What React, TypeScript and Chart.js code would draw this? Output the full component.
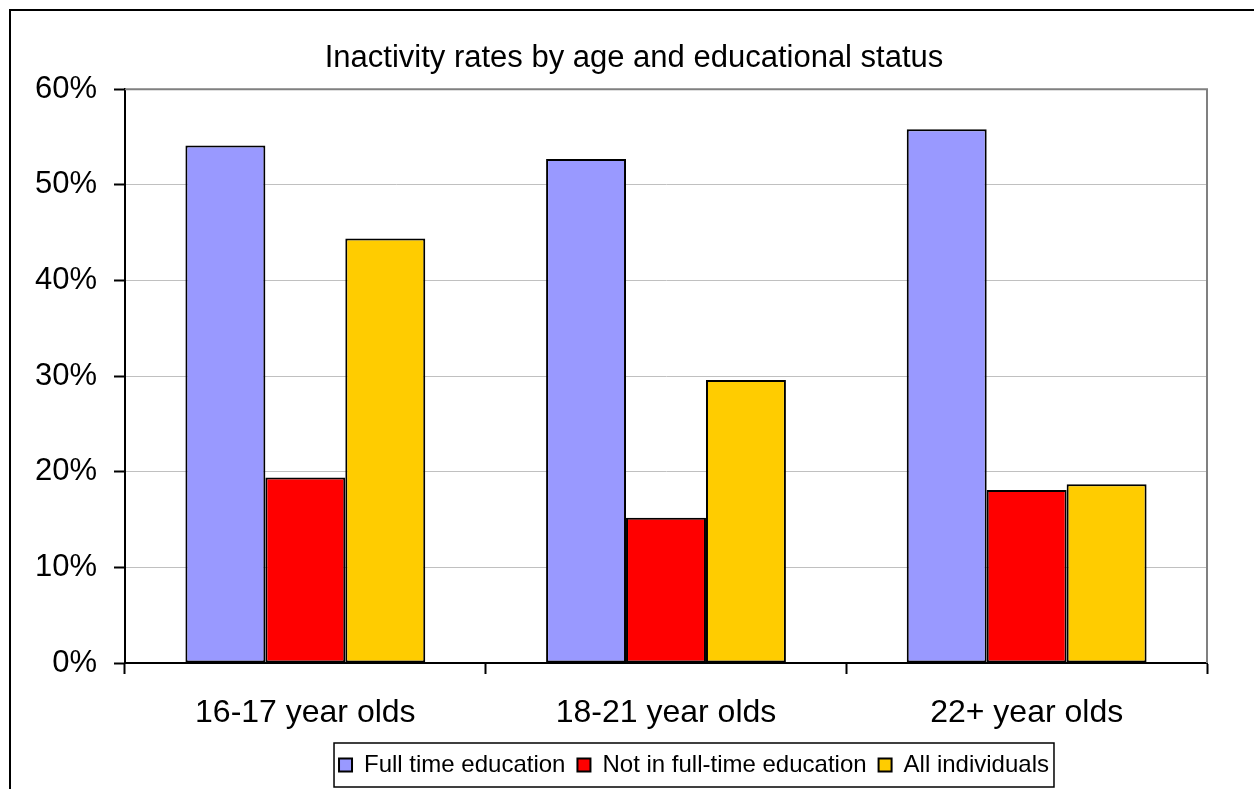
import React, { useEffect, useRef } from "react";
import { Chart, registerables } from "chart.js";

Chart.register(...registerables);

const chartTitle = "Inactivity rates by age and educational status";
const categories = ["16-17 year olds", "18-21 year olds", "22+ year olds"];
const seriesNames = ["Full time education", "Not in full-time education", "All individuals"];
const fullTimeEducation = [54.1, 52.7, 55.8];
const notInFullTimeEducation = [19.4, 15.2, 18.1];
const allIndividuals = [44.4, 29.6, 18.7];
const seriesColors = ["#9999FF", "#FF0000", "#FFCC00"];
const yMin = 0;
const yMax = 60;
const yStep = 10;

const FONT = "'Liberation Sans', Arial, sans-serif";
const LEGEND_SHIFT = 85;
const TITLE_SHIFT = 25;

const framePlugin = {
  id: "frame",
  afterUpdate(chart: any) {
    const lg = chart.legend;
    if (lg) {
      lg.left += LEGEND_SHIFT;
      lg.right += LEGEND_SHIFT;
      (lg.legendHitBoxes || []).forEach((h: any) => {
        h.left += LEGEND_SHIFT;
      });
    }
    const tt = chart.titleBlock;
    if (tt) {
      tt.left += TITLE_SHIFT;
      tt.right += TITLE_SHIFT;
    }
  },
  beforeDatasetsDraw(chart: any) {
    const { ctx, chartArea: a } = chart;
    ctx.save();
    ctx.strokeStyle = "#808080";
    ctx.lineWidth = 2;
    ctx.beginPath();
    ctx.moveTo(a.left, a.top);
    ctx.lineTo(a.right, a.top);
    ctx.lineTo(a.right, a.bottom);
    ctx.stroke();
    ctx.restore();
  },
  afterDraw(chart: any) {
    const lg = chart.legend;
    if (!lg || !lg.legendHitBoxes || !lg.legendHitBoxes.length) return;
    const hb = lg.legendHitBoxes;
    let l = Infinity;
    let r = -Infinity;
    hb.forEach((h: any) => {
      l = Math.min(l, h.left);
      r = Math.max(r, h.left + h.width);
    });
    const cy = hb[0].top + hb[0].height / 2;
    const { ctx } = chart;
    ctx.save();
    ctx.strokeStyle = "#000";
    ctx.lineWidth = 1.5;
    ctx.strokeRect(l - 5, cy - 22, r - l + 10, 44);
    ctx.restore();
  },
};

export default function App() {
  const ref = useRef<HTMLCanvasElement | null>(null);

  useEffect(() => {
    if (!ref.current) return;
    const values = [fullTimeEducation, notInFullTimeEducation, allIndividuals];
    const chart = new Chart(ref.current, {
      type: "bar",
      data: {
        labels: categories,
        datasets: seriesNames.map((name, i) => ({
          label: name,
          data: values[i],
          backgroundColor: seriesColors[i],
          borderColor: "#000",
          borderWidth: 2,
          borderSkipped: false,
          categoryPercentage: 0.665,
          barPercentage: 1,
        })),
      },
      options: {
        animation: false,
        responsive: true,
        maintainAspectRatio: false,
        devicePixelRatio: 1,
        layout: { padding: { left: 0, right: 47, top: 0, bottom: 2 } },
        plugins: {
          title: {
            display: true,
            text: chartTitle,
            color: "#000",
            font: { family: FONT, size: 31, weight: "normal" },
            padding: { top: 29, bottom: 12 },
          },
          legend: {
            position: "bottom",
            labels: {
              color: "#000",
              font: { family: FONT, size: 24 },
              boxWidth: 13,
              boxHeight: 13,
              padding: 12,
            },
          },
          tooltip: { enabled: false },
        },
        scales: {
          x: {
            grid: {
              drawOnChartArea: false,
              drawTicks: true,
              tickLength: 11,
              tickColor: "#000",
              tickWidth: 2,
              offset: true,
            },
            border: { color: "#000", width: 2 },
            ticks: {
              color: "#000",
              font: { family: FONT, size: 32 },
              padding: 20,
              maxRotation: 0,
            },
            afterFit: (s: any) => {
              s.height = 78;
            },
          },
          y: {
            min: yMin,
            max: yMax,
            grid: {
              color: "#c0c0c0",
              lineWidth: 1,
              tickLength: 11,
              tickColor: "#000",
              tickWidth: 2,
            },
            border: { color: "#000", width: 2 },
            ticks: {
              stepSize: yStep,
              color: "#000",
              font: { family: FONT, size: 31 },
              padding: 17,
              callback: (v: any) => `${v}%`,
            },
            afterFit: (s: any) => {
              s.width = 114;
            },
          },
        },
      },
      plugins: [framePlugin],
    });
    return () => chart.destroy();
  }, []);

  return (
    <div
      style={{
        position: "fixed",
        left: 9,
        top: 9,
        width: 1245,
        height: 780,
        borderLeft: "2px solid #000",
        borderTop: "2px solid #000",
        boxSizing: "border-box",
        background: "#fff",
      }}
    >
      <div style={{ position: "relative", width: 1243, height: 778 }}>
        <canvas ref={ref} />
      </div>
    </div>
  );
}
